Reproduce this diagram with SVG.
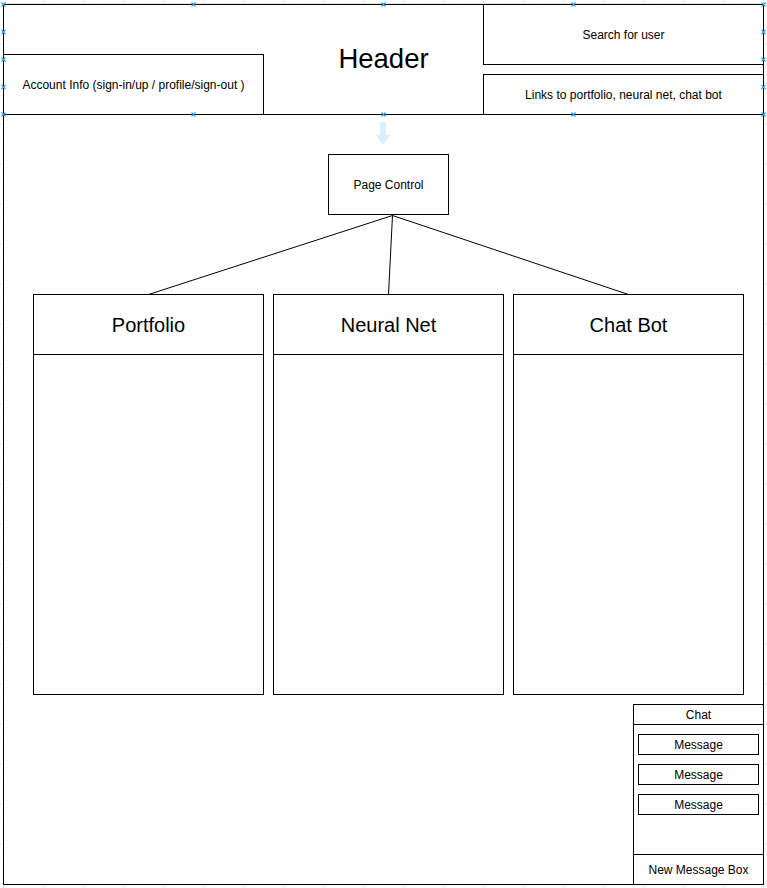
<svg xmlns="http://www.w3.org/2000/svg" width="767" height="888" viewBox="0 0 767 888">
<defs>
<pattern id="minor" x="3" y="3" width="10" height="10" patternUnits="userSpaceOnUse">
<path d="M10 0V10M0 10H10" fill="none" stroke="#f3f3f3" stroke-width="1"/>
</pattern>
<pattern id="major" x="3" y="3" width="40" height="40" patternUnits="userSpaceOnUse">
<rect width="40" height="40" fill="url(#minor)"/>
<path d="M0 0.5H40M0.5 0V40" fill="none" stroke="#e6e6e6" stroke-width="1"/>
</pattern>
<g id="h">
<path d="M-2 -2L2 2M-2 2L2 -2" stroke="#29a3ef" stroke-width="1.2" fill="none"/>
</g>
</defs>
<style>
.b{fill:#fff;stroke:#000;stroke-width:1}
.n{fill:none;stroke:#000;stroke-width:1}
.t{font-family:"Liberation Sans",Arial,Helvetica,sans-serif;fill:#000;text-anchor:middle;dominant-baseline:central}
.s12{font-size:12px}
.s20{font-size:20px}
.hd{font-family:"Liberation Sans",Arial,Helvetica,sans-serif;fill:#000;text-anchor:middle;font-size:27.5px}
</style>
<rect width="767" height="888" fill="#fff"/>
<rect width="767" height="888" fill="url(#major)"/>
<g id="page">
<rect class="b" x="3.5" y="4.5" width="760" height="880"/>
</g>
<g id="header">
<rect class="b" x="3.5" y="4.5" width="760" height="110"/>
<text class="hd" x="383.5" y="67.7">Header</text>
</g>
<g id="account">
<rect class="b" x="3.5" y="54.5" width="260" height="60"/>
<text class="t s12" x="133.5" y="85">Account Info (sign-in/up / profile/sign-out )</text>
</g>
<g id="search">
<rect class="b" x="483.5" y="4.5" width="280" height="60"/>
<text class="t s12" x="623.5" y="35">Search for user</text>
</g>
<g id="links">
<rect class="b" x="483.5" y="74.5" width="280" height="40"/>
<text class="t s12" x="623.5" y="95">Links to portfolio, neural net, chat bot</text>
</g>
<g id="handles">
<use href="#h" x="3.5" y="4.5"/><use href="#h" x="193.5" y="4.5"/><use href="#h" x="383.5" y="4.5"/><use href="#h" x="573.5" y="4.5"/><use href="#h" x="763.5" y="4.5"/>
<use href="#h" x="3.5" y="32"/><use href="#h" x="3.5" y="59.5"/><use href="#h" x="3.5" y="87"/>
<use href="#h" x="763.5" y="32"/><use href="#h" x="763.5" y="59.5"/><use href="#h" x="763.5" y="87"/>
<use href="#h" x="3.5" y="114.5"/><use href="#h" x="193.5" y="114.5"/><use href="#h" x="383.5" y="114.5"/><use href="#h" x="573.5" y="114.5"/><use href="#h" x="763.5" y="114.5"/>
</g>
<g id="hint-arrow">
<path d="M380 122H386V135H390.5L383 145L375.5 135H380Z" fill="#dcefff"/>
</g>
<g id="page-control">
<rect class="b" x="328.5" y="154.5" width="120" height="60"/>
<text class="t s12" x="388.5" y="185">Page Control</text>
</g>
<g id="connectors">
<path class="n" d="M392.5 215.5L148.5 294.5M392.5 215.5L388.5 294.5M392.5 215.5L628.5 294.5"/>
</g>
<g id="portfolio">
<rect class="b" x="33.5" y="294.5" width="230" height="400"/>
<path class="n" d="M33.5 354.5H263.5"/>
<text class="t s20" x="148.5" y="324.5">Portfolio</text>
</g>
<g id="neural-net">
<rect class="b" x="273.5" y="294.5" width="230" height="400"/>
<path class="n" d="M273.5 354.5H503.5"/>
<text class="t s20" x="388.5" y="324.5">Neural Net</text>
</g>
<g id="chat-bot">
<rect class="b" x="513.5" y="294.5" width="230" height="400"/>
<path class="n" d="M513.5 354.5H743.5"/>
<text class="t s20" x="628.5" y="324.5">Chat Bot</text>
</g>
<g id="chat">
<rect class="b" x="633.5" y="704.5" width="130" height="180"/>
<path class="n" d="M633.5 724.5H763.5M633.5 854.5H763.5"/>
<text class="t s12" x="698.5" y="715">Chat</text>
<text class="t s12" x="698.5" y="870">New Message Box</text>
</g>
<g id="message1">
<rect class="b" x="638.5" y="734.5" width="120" height="20"/>
<text class="t s12" x="698.5" y="745">Message</text>
</g>
<g id="message2">
<rect class="b" x="638.5" y="764.5" width="120" height="20"/>
<text class="t s12" x="698.5" y="775">Message</text>
</g>
<g id="message3">
<rect class="b" x="638.5" y="794.5" width="120" height="20"/>
<text class="t s12" x="698.5" y="805">Message</text>
</g>
</svg>
